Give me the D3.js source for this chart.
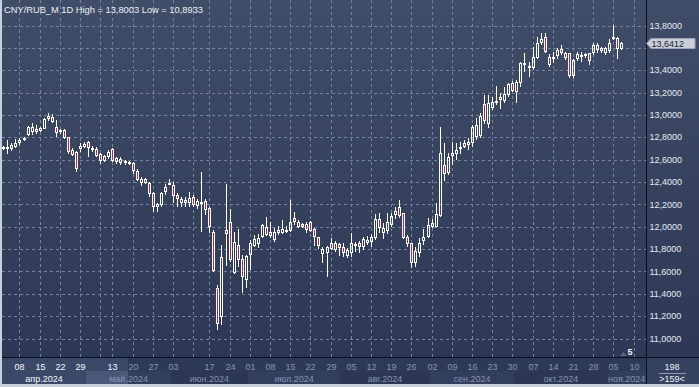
<!DOCTYPE html>
<html>
<head>
<meta charset="utf-8">
<title>CNY/RUB</title>
<script src="https://cdn.jsdelivr.net/npm/d3@7"></script>
<style>
body { margin: 0; background: #c9d0dc; }
svg { display: block; font-family: "Liberation Sans", Arial, sans-serif; }
</style>
</head>
<body>
<script>
// daily OHLC, one entry per trading day (02.04.2024 .. 07.11.2024)
var opens = [12.705,12.698,12.693,12.716,12.746,12.773,12.823,12.845,12.872,12.856,12.877,12.961,12.979,12.889,12.845,12.863,12.800,12.686,12.666,12.693,
  12.716,12.761,12.686,12.693,12.648,12.588,12.621,12.693,12.576,12.603,12.567,12.567,12.573,12.501,12.394,12.424,12.394,12.304,12.174,12.194,
  12.308,12.385,12.373,12.284,12.215,12.215,12.215,12.269,12.185,12.212,12.233,12.165,11.956,11.449,11.195,11.935,12.045,11.583,11.837,11.712,
  11.524,11.747,11.828,11.843,11.905,12.000,11.917,11.881,11.947,11.947,11.959,11.965,12.075,12.000,12.024,12.024,12.045,11.977,11.905,11.753,
  11.768,11.852,11.792,11.843,11.821,11.738,11.768,11.828,11.857,11.821,11.857,11.866,11.896,12.069,11.947,11.965,12.015,12.105,12.174,12.120,
  11.911,11.852,11.673,11.768,11.875,11.911,11.995,12.000,12.096,12.552,12.478,12.633,12.651,12.693,12.746,12.731,12.752,12.800,12.812,13.098,
  12.919,13.059,13.104,13.134,13.127,13.178,13.283,13.208,13.288,13.456,13.426,13.417,13.507,13.641,13.700,13.521,13.507,13.527,13.587,13.551,
  13.551,13.348,13.498,13.516,13.533,13.551,13.551,13.581,13.575,13.557,13.575,13.677,13.686,13.587];
var highs = [12.722,12.776,12.746,12.782,12.791,12.805,12.901,12.931,12.910,12.895,12.970,13.020,13.008,12.955,12.872,12.872,12.805,12.707,12.680,12.746,
  12.758,12.770,12.722,12.711,12.657,12.642,12.686,12.702,12.626,12.621,12.597,12.591,12.579,12.514,12.442,12.433,12.403,12.313,12.210,12.308,
  12.382,12.427,12.403,12.299,12.263,12.263,12.308,12.284,12.245,12.487,12.245,12.179,11.971,11.479,11.837,12.382,12.156,11.956,11.980,11.747,
  11.747,11.881,11.926,11.935,12.022,12.084,12.045,11.986,12.007,12.060,12.007,12.239,12.129,12.060,12.036,12.045,12.051,11.986,11.911,11.821,
  11.828,11.896,11.875,11.857,11.857,11.812,11.947,11.866,11.875,11.911,11.917,11.935,12.113,12.120,12.036,12.126,12.126,12.179,12.239,12.126,
  11.926,11.857,11.821,11.896,11.977,12.075,12.067,12.215,12.889,12.746,12.662,12.758,12.749,12.761,12.776,12.794,12.910,12.973,13.017,13.178,
  13.178,13.163,13.259,13.196,13.253,13.286,13.306,13.312,13.476,13.557,13.476,13.610,13.700,13.730,13.730,13.545,13.566,13.596,13.626,13.566,
  13.557,13.498,13.566,13.566,13.557,13.557,13.641,13.646,13.610,13.610,13.677,13.8003,13.694,13.655];
var lows = [12.686,12.651,12.680,12.702,12.731,12.764,12.812,12.823,12.829,12.850,12.872,12.948,12.925,12.800,12.832,12.787,12.651,12.632,12.492,12.671,
  12.702,12.626,12.666,12.621,12.558,12.579,12.603,12.579,12.561,12.552,12.555,12.552,12.472,12.409,12.364,12.382,12.263,12.134,12.132,12.179,
  12.284,12.373,12.215,12.174,12.179,12.179,12.179,12.174,12.156,11.956,12.105,11.941,11.598,11.076,11.121,11.649,11.687,11.577,11.643,11.405,
  11.449,11.613,11.816,11.807,11.896,11.917,11.896,11.866,11.926,11.935,11.941,11.956,12.015,11.986,11.986,11.947,11.956,11.828,11.798,11.676,
  11.553,11.792,11.777,11.738,11.727,11.718,11.732,11.777,11.762,11.792,11.837,11.821,11.881,11.941,11.888,11.935,12.000,12.067,12.075,11.888,
  11.816,11.628,11.643,11.732,11.837,11.896,11.986,11.995,12.090,12.412,12.463,12.552,12.597,12.651,12.704,12.686,12.713,12.776,12.794,12.919,
  12.883,13.044,13.089,13.053,13.107,13.163,13.208,13.104,13.253,13.387,13.342,13.402,13.498,13.626,13.557,13.426,13.462,13.498,13.536,13.491,
  13.328,13.328,13.485,13.476,13.507,13.447,13.536,13.557,13.557,13.536,13.551,13.670,13.498,13.581];
var closes = [12.709,12.716,12.731,12.752,12.776,12.796,12.889,12.889,12.845,12.880,12.964,12.993,12.937,12.841,12.863,12.796,12.666,12.641,12.516,12.722,
  12.740,12.702,12.707,12.633,12.591,12.633,12.671,12.588,12.612,12.567,12.588,12.579,12.501,12.418,12.424,12.394,12.293,12.174,12.201,12.299,
  12.353,12.388,12.275,12.245,12.245,12.239,12.257,12.194,12.233,12.218,12.150,12.000,11.607,11.130,11.732,11.971,11.702,11.861,11.702,11.548,
  11.741,11.852,11.890,11.896,12.013,11.926,11.950,11.956,11.971,11.977,11.971,12.045,12.040,12.040,12.000,11.971,11.965,11.905,11.828,11.798,
  11.821,11.798,11.857,11.807,11.762,11.792,11.857,11.846,11.821,11.888,11.881,11.911,12.069,11.986,11.986,12.045,12.096,12.141,12.096,11.896,
  11.843,11.673,11.786,11.857,11.911,12.015,12.031,12.114,12.657,12.469,12.621,12.662,12.686,12.711,12.716,12.755,12.895,12.910,12.990,12.948,
  13.109,13.118,13.125,13.163,13.187,13.274,13.217,13.297,13.462,13.462,13.438,13.516,13.641,13.677,13.566,13.447,13.521,13.581,13.551,13.507,
  13.348,13.491,13.545,13.536,13.545,13.485,13.626,13.626,13.596,13.596,13.646,13.700,13.587,13.6412];

// weekly marks: label and trading-day index (null label = grid only)
var weekLabels = ["08","15","22","29",null,"13","20","27","03",null,"17","24","01","08","15","22","29","05","12","19","26","02","09","16","23","30","07","14","21","28","05","10"];
var weekIndex  = [4,9,14,19,24,27,32,37,42,47,51,56,61,66,71,76,81,86,91,96,101,106,111,116,121,126,131,136,141,146,151,156];

var monthLabels = ["апр.2024","май.2024","июн.2024","июл.2024","авг.2024","сен.2024","окт.2024","ноя.2024"];
var monthStart  = [0,21,42,61,84,106,127,150];

var yTicks = [11.0,11.2,11.4,11.6,11.8,12.0,12.2,12.4,12.6,12.8,13.0,13.2,13.4,13.6,13.8];
var lastPrice = 13.6412;
var titleText = "CNY/RUB_M 1D High = 13,8003 Low = 10,8933";
var barsTotal = "198", barsVisible = ">159<";
var slots = 159;

var width = 699, height = 387,
    plotL = 2, plotR = 646, plotT = 0, plotB = 357,
    axisB = 384;

var svg = d3.select("body").append("svg")
  .attr("width", width)
  .attr("height", height);

var defs = svg.append("defs");
var grad = defs.append("linearGradient").attr("id", "bg").attr("x1", 0).attr("y1", 0).attr("x2", 0).attr("y2", 1);
grad.append("stop").attr("offset", "0%").attr("stop-color", "#404d68");
grad.append("stop").attr("offset", "100%").attr("stop-color", "#2c3855");
defs.append("clipPath").attr("id", "axisclip").append("rect")
  .attr("x", plotL).attr("y", plotB).attr("width", plotR - plotL).attr("height", axisB - plotB);

var x = d3.scaleLinear().domain([0, slots - 1]).range([3.3, 3.3 + (slots - 1) * 4.04]);
var y = d3.scaleLinear().domain([11.0, 13.8]).range([338.5, 25.5]);
var fmt = function(v){ return v.toFixed(4).replace(".", ","); };

// panels
svg.append("rect").attr("x", plotL).attr("y", plotT).attr("width", plotR - plotL).attr("height", plotB - plotT).attr("fill", "url(#bg)");
svg.append("rect").attr("x", plotR).attr("y", plotT).attr("width", width - plotR).attr("height", plotB - plotT).attr("fill", "url(#bg)");
svg.append("rect").attr("x", plotL).attr("y", plotB).attr("width", plotR - plotL).attr("height", axisB - plotB).attr("fill", "#2d3a57");
svg.append("rect").attr("x", plotR).attr("y", plotB).attr("width", width - plotR).attr("height", axisB - plotB).attr("fill", "#35425f");

// grid
var grid = svg.append("g").attr("stroke", "#74829f").attr("stroke-dasharray", "3,3").attr("stroke-width", 1);
grid.selectAll("line.h").data(yTicks).enter().append("line")
  .attr("x1", plotL).attr("x2", plotR)
  .attr("y1", function(d){ return Math.round(y(d)) + 0.5; })
  .attr("y2", function(d){ return Math.round(y(d)) + 0.5; });
grid.selectAll("line.v").data(weekIndex).enter().append("line")
  .attr("y1", plotT).attr("y2", plotB)
  .attr("x1", function(d){ return Math.round(x(d)) + 0.5; })
  .attr("x2", function(d){ return Math.round(x(d)) + 0.5; });

// candles
var candles = d3.range(opens.length).map(function(i){
  return { i: i, o: opens[i], h: highs[i], l: lows[i], c: closes[i] };
});
var cg = svg.append("g");
candles.forEach(function(d){
  var cx = Math.round(x(d.i));
  var top = Math.round(y(Math.max(d.o, d.c)));
  var bot = Math.round(y(Math.min(d.o, d.c)));
  if (bot - top < 2) bot = top + 2;
  var hi = Math.round(y(d.h)), lo = Math.round(y(d.l));
  var up = d.c >= d.o;
  if (hi < top) cg.append("line").attr("x1", cx + 0.5).attr("x2", cx + 0.5).attr("y1", hi).attr("y2", top).attr("stroke", "#fff");
  if (lo > bot) cg.append("line").attr("x1", cx + 0.5).attr("x2", cx + 0.5).attr("y1", bot).attr("y2", lo).attr("stroke", "#fff");
  cg.append("rect")
    .attr("x", cx - 0.5).attr("y", top + 0.5)
    .attr("width", 2).attr("height", bot - top - 1)
    .attr("fill", up ? "none" : "#b42846")
    .attr("stroke", "#fff").attr("stroke-width", 1);
});

// frame lines
svg.append("line").attr("x1", plotR + 0.5).attr("x2", plotR + 0.5).attr("y1", 0).attr("y2", axisB).attr("stroke", "#0b0f18");
svg.append("line").attr("x1", plotL).attr("x2", width).attr("y1", plotB + 0.5).attr("y2", plotB + 0.5).attr("stroke", "#0b0f18");

// right axis labels (the one under the last-price marker is covered by it)
var py = Math.round(y(lastPrice));
svg.append("g").selectAll("text").data(yTicks.filter(function(d){ return Math.abs(y(d) - py) > 9; }))
  .enter().append("text")
  .attr("x", 649.5).attr("y", function(d){ return y(d); }).attr("dy", "0.35em")
  .attr("font-size", 9).attr("fill", "#e6eaf2")
  .text(fmt);

// last price marker
svg.append("path")
  .attr("d", "M" + (plotR + 0.5) + "," + (py + 0.5) + "L" + (plotR + 5) + "," + (py - 4.5) + "L695," + (py - 4.5) + "L695," + (py + 5.5) + "L" + (plotR + 5) + "," + (py + 5.5) + "Z")
  .attr("fill", "#c9ced8").attr("stroke", "#9aa3b5");
svg.append("text").attr("x", 651.5).attr("y", py + 0.5).attr("dy", "0.35em")
  .attr("font-size", 9).attr("fill", "#1d2330").text(fmt(lastPrice));

// title
svg.append("text").attr("x", 4).attr("y", 13).attr("font-size", 9.3).attr("fill", "#eef1f6").text(titleText);

// small marker bottom right of plot
svg.append("path").attr("d", "M620,356 L623.5,352 L627,356 Z").attr("fill", "#5a6680");
svg.append("text").attr("x", 627.5).attr("y", 355).attr("font-size", 9).attr("font-weight", "bold").attr("fill", "#f2f4f8").text("5");

// bottom axis: month bands
var bandEdge = function(i){ return Math.max(plotL, x(i) - 2.02); };
var bandEnd = function(k){ return k + 1 < monthStart.length ? bandEdge(monthStart[k + 1]) : plotR; };
var axisG = svg.append("g").attr("clip-path", "url(#axisclip)");
monthLabels.forEach(function(m, k){
  var a = bandEdge(monthStart[k]), b = bandEnd(k);
  axisG.append("rect").attr("x", a).attr("y", 371).attr("width", b - a).attr("height", axisB - 371)
    .attr("fill", k % 2 ? "#313e5c" : "#2b3754");
});
// highlighted region at left
var hiEnd = 128;
axisG.append("rect").attr("x", plotL).attr("y", plotB + 1).attr("width", hiEnd - plotL).attr("height", axisB - plotB - 1).attr("fill", "#3b4969");
axisG.append("rect").attr("x", bandEdge(monthStart[1])).attr("y", 371).attr("width", hiEnd - bandEdge(monthStart[1])).attr("height", axisB - 371).attr("fill", "#4a5878");

var ag = axisG.append("g").attr("font-size", 9).attr("text-anchor", "middle");
weekIndex.forEach(function(d, k){
  if (!weekLabels[k]) return;
  var px = Math.round(x(d)) + 0.5;
  ag.append("text").attr("x", px).attr("y", 370)
    .attr("fill", px < hiEnd ? "#f4f6fa" : "#8593b0").text(weekLabels[k]);
});
monthLabels.forEach(function(m, k){
  var cx = (bandEdge(monthStart[k]) + bandEnd(k)) / 2;
  ag.append("text").attr("x", cx).attr("y", 381.5)
    .attr("fill", cx < hiEnd - 20 ? "#f4f6fa" : "#8593b0").text(m);
});

// bars counter
svg.append("text").attr("x", 672).attr("y", 370).attr("font-size", 9).attr("text-anchor", "middle").attr("fill", "#eef1f6").text(barsTotal);
svg.append("line").attr("x1", 659).attr("x2", 686).attr("y1", 373.5).attr("y2", 373.5).attr("stroke", "#8c98b0");
svg.append("text").attr("x", 672).attr("y", 382).attr("font-size", 9).attr("text-anchor", "middle").attr("fill", "#eef1f6").text(barsVisible);
</script>
</body>
</html>
